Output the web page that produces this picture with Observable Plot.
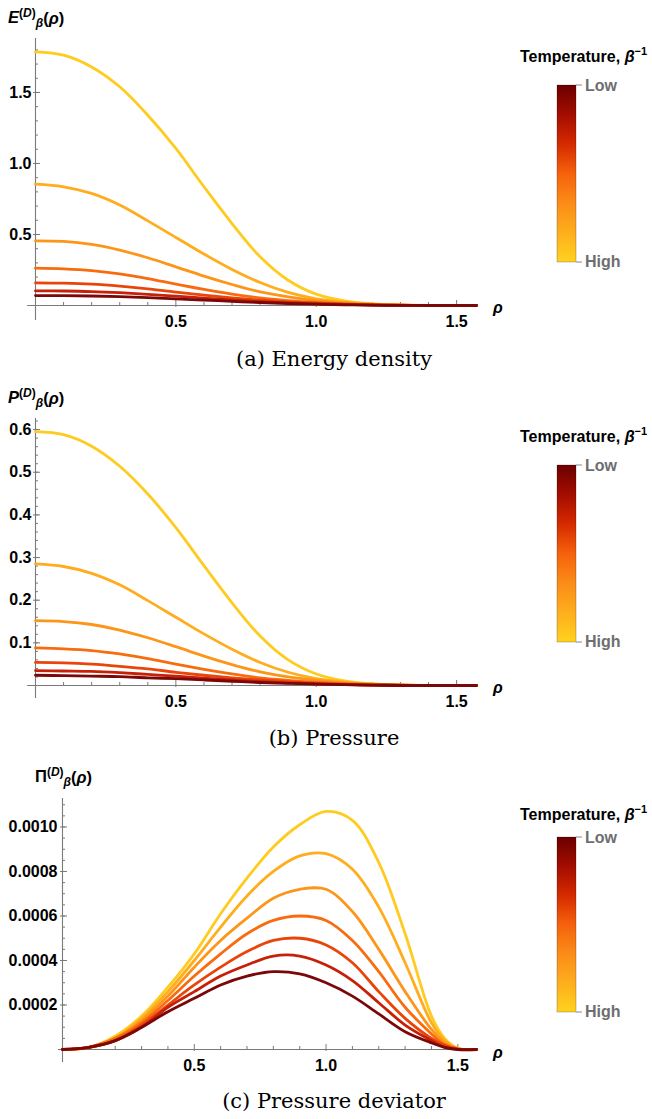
<!DOCTYPE html>
<html><head><meta charset="utf-8">
<script src="https://cdn.jsdelivr.net/npm/d3@7"></script>
<script src="https://cdn.jsdelivr.net/npm/@observablehq/plot@0.6"></script>
<style>
body{margin:0;background:#fff;}
#root{position:relative;width:652px;height:1119px;overflow:hidden;}
#root > svg, #root > div{position:absolute;}
svg.pnl text{font-family:"Liberation Sans",Arial,sans-serif !important;font-size:16px !important;font-weight:bold !important;fill:#000 !important;}
</style></head><body><div id="root"></div>
<script>
// ---------------- data ----------------
const rhoGrid   = [0,0.1,0.2,0.3,0.4,0.5,0.6,0.7,0.8,0.9,1.0,1.1,1.2,1.3,1.4,1.5,1.5708];
const rhoGridPi = [0,0.1,0.2,0.3,0.4,0.5,0.6,0.7,0.8,0.9,1.0,1.1,1.2,1.3,1.4,1.45,1.5,1.5708];
const seriesNames  = ["T1","T2","T3","T4","T5","T6","T7"]; // high -> low temperature
const seriesColors = ["#ffcb1f","#ffad1e","#fd9519","#f86c0f","#e9450a","#c62008","#7a0808"];

const energy1 = [1.786,1.763,1.68,1.54,1.34,1.106,0.836,0.577,0.343,0.178,0.08,0.033,0.012,0.003,0.0005,0,0];
const energy2 = [0.854,0.836,0.789,0.707,0.596,0.479,0.362,0.254,0.162,0.092,0.047,0.023,0.009,0.003,0.001,0,0];
const energy3 = [0.455,0.451,0.43,0.39,0.336,0.272,0.207,0.148,0.096,0.061,0.035,0.019,0.008,0.003,0.001,0,0];
const energy4 = [0.263,0.258,0.246,0.223,0.19,0.15,0.113,0.08,0.054,0.035,0.021,0.011,0.005,0.002,0.001,0,0];
const energy5 = [0.16,0.157,0.15,0.136,0.117,0.094,0.073,0.054,0.038,0.026,0.016,0.009,0.004,0.002,0.001,0,0];
const energy6 = [0.103,0.102,0.098,0.09,0.079,0.066,0.052,0.039,0.028,0.019,0.012,0.007,0.003,0.001,0,0,0];
const energy7 = [0.07,0.069,0.067,0.062,0.055,0.047,0.038,0.029,0.021,0.014,0.009,0.005,0.002,0.001,0,0,0];

const pressure1 = [0.595,0.588,0.561,0.514,0.449,0.37,0.281,0.194,0.116,0.06,0.027,0.011,0.004,0.001,0,0,0];
const pressure2 = [0.285,0.279,0.263,0.236,0.199,0.16,0.121,0.085,0.054,0.031,0.016,0.008,0.003,0.001,0,0,0];
const pressure3 = [0.152,0.15,0.143,0.13,0.112,0.091,0.069,0.049,0.032,0.02,0.012,0.006,0.003,0.001,0,0,0];
const pressure4 = [0.088,0.086,0.082,0.074,0.063,0.05,0.038,0.027,0.018,0.012,0.007,0.004,0.002,0.001,0,0,0];
const pressure5 = [0.054,0.053,0.05,0.045,0.039,0.031,0.024,0.018,0.013,0.009,0.005,0.003,0.001,0.001,0,0,0];
const pressure6 = [0.035,0.034,0.033,0.03,0.026,0.022,0.017,0.013,0.009,0.006,0.004,0.002,0.001,0,0,0,0];
const pressure7 = [0.024,0.023,0.022,0.021,0.018,0.016,0.013,0.01,0.007,0.005,0.003,0.002,0.001,0,0,0,0];

const deviator1 = [0,0.00001,0.00006,0.00015,0.00028,0.00043,0.00061,0.00077,0.00091,0.00101,0.00107,0.00103,0.00084,0.00052,0.00015,0.00005,0.000005,0];
const deviator2 = [0,0.00001,0.00005,0.00014,0.00026,0.0004,0.00055,0.00069,0.0008,0.00087,0.00088,0.00081,0.00064,0.00039,0.00012,0.00004,0.000005,0];
const deviator3 = [0,0.00001,0.00005,0.00013,0.00024,0.00037,0.00049,0.00059,0.00068,0.00072,0.00072,0.00062,0.00045,0.00026,0.00009,0.00003,0.000003,0];
const deviator4 = [0,0.00001,0.00005,0.00012,0.00022,0.00033,0.00043,0.00052,0.00058,0.0006,0.00058,0.00049,0.00035,0.00019,0.00007,0.00002,0.000002,0];
const deviator5 = [0,0.00001,0.00004,0.00011,0.0002,0.00029,0.00037,0.00044,0.00049,0.0005,0.00047,0.00039,0.00026,0.00014,0.00005,0.00002,0.000002,0];
const deviator6 = [0,0.00001,0.00004,0.0001,0.00019,0.00026,0.00033,0.00038,0.00042,0.00042,0.00038,0.00031,0.00021,0.00011,0.00004,0.00001,0.000001,0];
const deviator7 = [0,0.00001,0.00004,0.0001,0.00017,0.00023,0.00029,0.00033,0.00035,0.00034,0.0003,0.00024,0.00016,0.00008,0.00003,0.00001,0,0];

const xMajorTicks = [0.5,1.0,1.5];
const xMinorTicks = [0.1,0.2,0.3,0.4,0.6,0.7,0.8,0.9,1.1,1.2,1.3,1.4];
const yMajorE = [0.5,1.0,1.5];
const yMajorP = [0.1,0.2,0.3,0.4,0.5,0.6];
const yMajorPi = [0.0002,0.0004,0.0006,0.0008,0.0010];

const legendStops = ["#6b0000","#a30d00","#d52a00","#f5620d","#fb8c18","#feae1d","#ffd21f"];
const axisGray = "#7a7a7a";
const xMax = Math.PI/2;

// ---------------- panels ----------------
function panel(cfg){
  const rows = [];
  cfg.series.forEach((vals,i)=>vals.forEach((v,j)=>rows.push({rho:cfg.rho[j], v, s:seriesNames[i]})));
  const blank = () => "";
  const txt = {fontSize: 16, fontWeight: "bold", fill: "#000"};
  const svg = Plot.plot({
    width: cfg.width, height: cfg.height,
    marginLeft: cfg.ml, marginRight: cfg.mr, marginTop: cfg.mt, marginBottom: cfg.mb,
    x: {domain: [0, xMax]},
    y: {domain: cfg.yDomain},
    color: {domain: seriesNames, range: seriesColors},
    style: {fontFamily: "'Liberation Sans', Arial, sans-serif", fontSize: "16px", fontWeight: "bold", background: "transparent", overflow: "visible", color: "#000"},
    marks: [
      Plot.axisY(cfg.yMinor, {anchor:"left", tickSize:-3, tickFormat: blank, stroke: axisGray, label: null}),
      Plot.axisY(cfg.yMajor, {anchor:"left", tickSize:-5, tickFormat: blank, stroke: axisGray, label: null}),
      Plot.axisY(cfg.yMajor, {anchor:"left", tickSize:2, tickPadding: cfg.yPad, tickFormat: cfg.yFmt, stroke: axisGray, label: null, ...txt}),
      Plot.axisX(xMinorTicks, {anchor:"bottom", tickSize:-3, tickFormat: blank, stroke: axisGray, label: null}),
      Plot.axisX(xMajorTicks, {anchor:"bottom", tickSize:-5, tickFormat: blank, stroke: axisGray, label: null}),
      Plot.axisX(xMajorTicks, {anchor:"bottom", tickSize:2, tickPadding: 8, tickFormat: d3.format(".1f"), stroke: axisGray, label: null, ...txt}),
      Plot.ruleY([0], {x1: cfg.xExt, x2: xMax, stroke: axisGray, strokeWidth: 1.1}),
      Plot.ruleX([0], {y1: cfg.yExt, y2: cfg.yDomain[1], stroke: axisGray, strokeWidth: 1.1}),
      Plot.line(rows, {x:"rho", y:"v", z:"s", stroke:"s", strokeWidth: 2.8, curve: "catmull-rom"})
    ]
  });
  svg.classList.add("pnl");
  svg.style.left = cfg.left + "px";
  svg.style.top = cfg.top + "px";
  return svg;
}

const root = document.getElementById("root");
root.appendChild(panel({
  left:0, top:0, width:500, height:340, ml:35, mr:24, mt:38, mb:35,
  rho: rhoGrid, series:[energy1,energy2,energy3,energy4,energy5,energy6,energy7],
  yDomain:[0,1.88], yMajor:yMajorE, yMinor:d3.range(1,19).map(d=>d/10), yFmt:d3.format(".1f"), yPad:2,
  xExt:-0.028, yExt:-0.106
}));
root.appendChild(panel({
  left:0, top:380, width:500, height:340, ml:35, mr:24, mt:38, mb:35,
  rho: rhoGrid, series:[pressure1,pressure2,pressure3,pressure4,pressure5,pressure6,pressure7],
  yDomain:[0,0.626], yMajor:yMajorP, yMinor:d3.range(1,32).map(d=>d*0.02), yFmt:d3.format(".1f"), yPad:2,
  xExt:-0.028, yExt:-0.0305
}));
root.appendChild(panel({
  left:0, top:760, width:500, height:330, ml:62, mr:24, mt:38, mb:41,
  rho: rhoGridPi, series:[deviator1,deviator2,deviator3,deviator4,deviator5,deviator6,deviator7],
  yDomain:[0,0.001128], yMajor:yMajorPi, yMinor:d3.range(1,23).map(d=>d*0.00005), yFmt:d3.format(".4f"), yPad:3,
  xExt:-0.0152, yExt:-0.0000584
}));

// ---------------- annotations (labels, legends, captions) ----------------
const ns = "http://www.w3.org/2000/svg";
const ov = document.createElementNS(ns, "svg");
ov.setAttribute("width", 652); ov.setAttribute("height", 1119);
ov.style.left = "0px"; ov.style.top = "0px";
const sans = "'Liberation Sans', Arial, sans-serif";
function ylabel(x, y, head, italicHead){
  return `<text x="${x}" y="${y}" font-family="${sans}" font-weight="bold" font-size="16.5" fill="#000">`+
    `<tspan font-style="${italicHead?'italic':'normal'}">${head}</tspan>`+
    `<tspan font-size="12" dy="-6">(</tspan><tspan font-size="12" font-style="italic">D</tspan><tspan font-size="12">)</tspan>`+
    `<tspan font-size="12" font-style="italic" dy="10">β</tspan>`+
    `<tspan dy="-3">(</tspan><tspan font-style="italic">ρ</tspan><tspan>)</tspan></text>`;
}
function rhoLabel(x, y){
  return `<text x="${x}" y="${y}" font-family="${sans}" font-weight="bold" font-style="italic" font-size="16" fill="#000">ρ</text>`;
}
function legend(titleY, barTop, barBottom){
  return `<text x="520" y="${titleY}" font-family="${sans}" font-weight="bold" font-size="16" fill="#000">Temperature, <tspan font-style="italic">β</tspan><tspan font-size="11" dy="-7">−1</tspan></text>`+
    `<rect x="557" y="${barTop}" width="19" height="${barBottom-barTop}" fill="url(#lg)" stroke="#000" stroke-opacity="0.22" stroke-width="1"/>`+
    `<line x1="576" x2="582" y1="${barTop}" y2="${barTop}" stroke="#888" stroke-width="1"/>`+
    `<line x1="576" x2="582" y1="${barBottom}" y2="${barBottom}" stroke="#888" stroke-width="1"/>`+
    `<text x="585" y="${barTop+6}" font-family="${sans}" font-weight="bold" font-size="16" fill="#6e6e6e">Low</text>`+
    `<text x="585" y="${barBottom+5}" font-family="${sans}" font-weight="bold" font-size="16" fill="#6e6e6e">High</text>`;
}
function caption(y, txt){
  return `<text x="334" y="${y}" text-anchor="middle" font-family="'DejaVu Serif', serif" font-size="21" fill="#000">${txt}</text>`;
}
let grad = `<defs><linearGradient id="lg" x1="0" y1="0" x2="0" y2="1">` +
  legendStops.map((c,i)=>`<stop offset="${i/(legendStops.length-1)}" stop-color="${c}"/>`).join("") +
  `</linearGradient></defs>`;
ov.innerHTML = grad +
  ylabel(8, 23, "E", true) + rhoLabel(493, 313) + legend(62, 85, 262) + caption(366, "(a) Energy density") +
  ylabel(8, 403, "P", true) + rhoLabel(493, 693) + legend(442, 465, 642) + caption(745, "(b) Pressure") +
  ylabel(35, 782, "Π", false) + rhoLabel(493, 1058) + legend(820, 837, 1012) + caption(1108, "(c) Pressure deviator");
root.appendChild(ov);
</script>
</body></html>
